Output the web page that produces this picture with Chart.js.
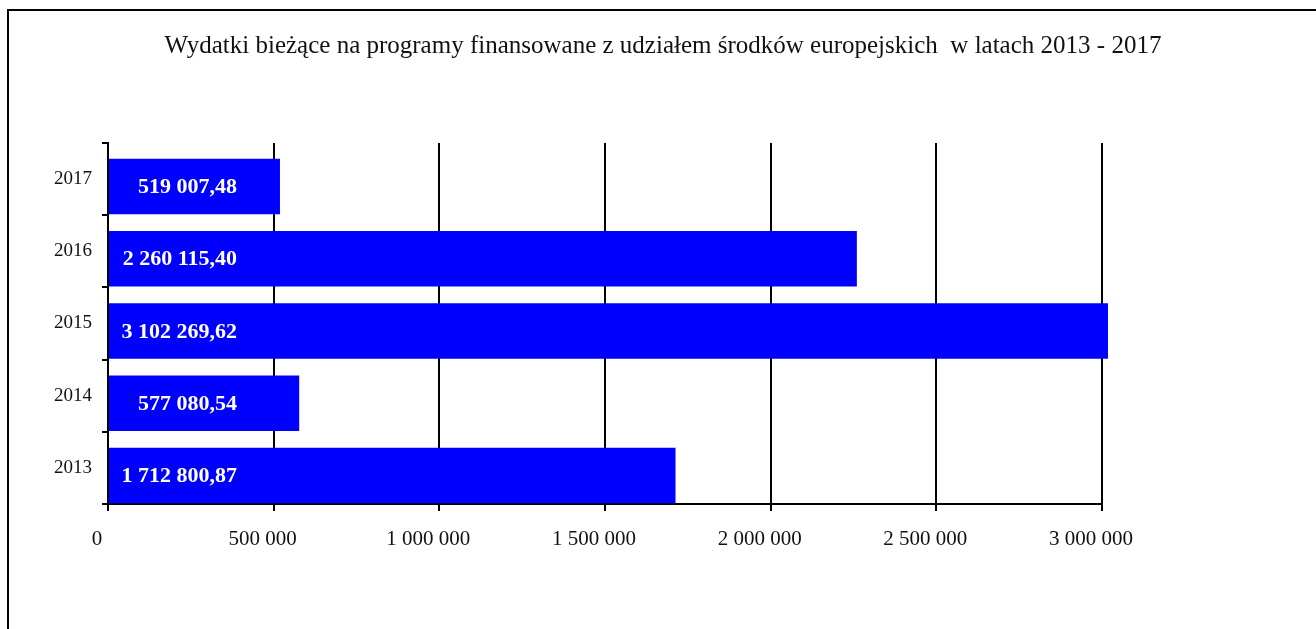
<!DOCTYPE html>
<html>
<head>
<meta charset="utf-8">
<script src="https://cdn.jsdelivr.net/npm/chart.js@4.4.1/dist/chart.umd.min.js"></script>
<style>
  body { margin: 0; background: #fff; }
  #frame { position: absolute; left: 7px; top: 9px; width: 1400px; height: 700px;
           border-left: 2px solid #000; border-top: 2px solid #000; }
  #myChart { position: absolute; left: 0; top: 0; }
</style>
</head>
<body>
<div id="frame"></div>
<canvas id="myChart" width="1316" height="629"></canvas>
<script>
const years = ['2013', '2014', '2015', '2016', '2017'];
const spending = [1712800.87, 577080.54, 3102269.62, 2260115.40, 519007.48];
const spacer = [null, null, null, null, null];
const xTicks = [0, 500000, 1000000, 1500000, 2000000, 2500000, 3000000];
const titleText = 'Wydatki bieżące na programy finansowane z udziałem środków europejskich  w latach 2013 - 2017';

function groupDigits(n) {
  return String(n).replace(/\B(?=(\d{3})+(?!\d))/g, ' ');
}

function formatMoney(v) {
  const parts = v.toFixed(2).split('.');
  return groupDigits(parts[0]) + ',' + parts[1];
}

// white values inside the bars, right aligned at a fixed offset from zero
const barLabels = {
  id: 'barLabels',
  afterDatasetsDraw(chart) {
    const ctx = chart.ctx;
    const meta = chart.getDatasetMeta(1);
    const right = chart.scales.x.getPixelForValue(0) + 129;
    ctx.save();
    ctx.font = 'bold 22px "Liberation Serif"';
    ctx.fillStyle = '#fff';
    ctx.textAlign = 'right';
    ctx.textBaseline = 'middle';
    meta.data.forEach((bar, i) => {
      ctx.fillText(formatMoney(spending[i]), right, bar.y + 1);
    });
    ctx.restore();
  },
};

const chart = new Chart(document.querySelector('#myChart'), {
  type: 'bar',
  data: {
    labels: years,
    datasets: [
      { data: spacer, backgroundColor: '#0000ff' },
      {
        data: spending,
        backgroundColor: '#0000ff',
        borderWidth: 0,
        clip: { left: 5, top: 5, right: 6, bottom: 5 },
      },
    ],
  },
  options: {
    indexAxis: 'y',
    responsive: false,
    animation: false,
    devicePixelRatio: 1,
    categoryPercentage: 0.4155,
    barPercentage: 3.7,
    layout: { padding: { left: 10, right: 0, top: 0, bottom: 0 } },
    plugins: {
      legend: { display: false },
      tooltip: { enabled: false },
      title: {
        display: true,
        text: titleText,
        color: '#111',
        font: { family: '"Liberation Serif"', size: 25, weight: 'normal', lineHeight: 1.2 },
        padding: { top: 31, bottom: 82 },
      },
    },
    scales: {
      x: {
        min: 0,
        max: 3000000,
        afterFit: (scale) => { scale.height = 125; },
        afterBuildTicks: (scale) => { scale.ticks = xTicks.map((v) => ({ value: v })); },
        ticks: {
          color: '#111',
          padding: 16,
          labelOffset: -11,
          maxRotation: 0,
          font: { family: '"Liberation Serif"', size: 21 },
          callback: (v) => groupDigits(v),
        },
        grid: { color: '#000', lineWidth: 2, tickLength: 7 },
        border: { color: '#000', width: 2 },
      },
      y: {
        reverse: true,
        afterFit: (scale) => { scale.width = 98; },
        ticks: {
          color: '#111',
          padding: 10,
          font: { family: '"Liberation Serif"', size: 19 },
        },
        grid: { drawOnChartArea: false, color: '#000', lineWidth: 2, tickLength: 6 },
        border: { color: '#000', width: 2 },
      },
      // empty space on the right of the plot, keeps the title centred on the page
      rightSpace: {
        type: 'category',
        position: 'right',
        afterFit: (scale) => { scale.width = 214; },
        ticks: { display: false },
        grid: { display: false },
        border: { display: false },
      },
    },
  },
  plugins: [barLabels],
});
</script>
</body>
</html>
